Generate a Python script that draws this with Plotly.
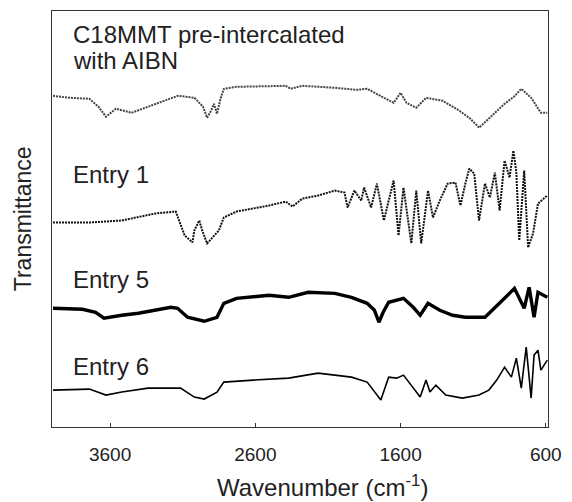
import plotly.graph_objects as go

# Wavenumber (cm-1) and transmittance (arbitrary, offset)
aibn_wn = [3993, 3880, 3743, 3680, 3628, 3561, 3452, 3290, 3134, 3019, 2960, 2932, 2905, 2885, 2864,
           2840, 2817, 2729, 2500, 2391, 2357, 2276, 2053, 1900, 1830, 1760, 1715, 1648, 1600, 1560,
           1492, 1424, 1310, 1195, 1120, 1059, 951, 884, 820, 769, 701, 634, 590]
aibn_t = [333, 331, 330, 322, 312, 320, 316, 325, 333, 331, 322, 311, 318, 325, 315,
          330, 340, 342, 343, 343, 340, 343, 341, 339, 340, 335, 331, 326, 336, 326,
          321, 331, 328, 318, 310, 301, 316, 325, 332, 340, 331, 316, 316]

e1_wn = [3993, 3743, 3520, 3290, 3148, 3115, 3087, 3033, 3020, 2986, 2966, 2932, 2912, 2851, 2817,
         2729, 2506, 2391, 2344, 2276, 2168, 2053, 1986, 1965, 1918, 1871, 1851, 1803, 1763, 1715,
         1648, 1614, 1580, 1526, 1492, 1458, 1411, 1377, 1330, 1276, 1222, 1188, 1154, 1127, 1093,
         1060, 1019, 985, 951, 918, 884, 850, 823, 803, 783, 749, 722, 688, 654, 590]
e1_t = [206, 206, 208, 215, 217, 205, 193, 186, 198, 208, 198, 185, 188, 198, 211,
        217, 223, 227, 222, 230, 233, 238, 236, 221, 238, 228, 241, 221, 245, 208,
        248, 193, 241, 185, 238, 185, 238, 211, 228, 245, 246, 223, 245, 260, 255,
        208, 245, 231, 256, 218, 268, 251, 278, 256, 188, 258, 181, 195, 225, 233]

e5_wn = [3993, 3790, 3700, 3642, 3520, 3405, 3182, 3135, 3067, 2952, 2864, 2840, 2817, 2729, 2506,
         2371, 2236, 2053, 1938, 1830, 1780, 1749, 1720, 1682, 1580, 1513, 1465, 1411, 1330, 1242,
         1154, 1019, 951, 884, 816, 749, 715, 681, 654, 590]
e5_t = [120, 119, 116, 110, 113, 115, 121, 120, 111, 107, 111, 118, 125, 130, 133,
        131, 136, 135, 131, 125, 118, 106, 116, 126, 130, 121, 113, 125, 118, 113,
        111, 111, 120, 130, 140, 120, 141, 111, 136, 131]

e6_wn = [3993, 3743, 3628, 3520, 3338, 3115, 3020, 2952, 2864, 2817, 2614, 2371, 2168, 1938, 1830,
         1736, 1682, 1627, 1580, 1513, 1465, 1425, 1398, 1357, 1289, 1175, 1060, 992, 938, 884,
         837, 803, 769, 735, 701, 681, 654, 634, 590]
e6_t = [38, 39, 33, 36, 40, 40, 31, 29, 36, 46, 48, 50, 55, 51, 46,
        28, 51, 50, 53, 40, 31, 48, 36, 43, 33, 30, 33, 38, 48, 61,
        51, 70, 40, 81, 30, 73, 78, 58, 68]

labels = ["C18MMT pre-intercalated", "with AIBN", "Entry 1", "Entry 5", "Entry 6"]
tick_vals = [3600, 2600, 1600, 600]

fig = go.Figure()
fig.add_trace(go.Scatter(x=aibn_wn, y=aibn_t, mode="lines",
                         line=dict(color="#444444", width=2, dash="2px,1px")))
fig.add_trace(go.Scatter(x=e1_wn, y=e1_t, mode="lines",
                         line=dict(color="#111111", width=2, dash="2px,1px")))
fig.add_trace(go.Scatter(x=e5_wn, y=e5_t, mode="lines",
                         line=dict(color="#000000", width=3.4)))
fig.add_trace(go.Scatter(x=e6_wn, y=e6_t, mode="lines",
                         line=dict(color="#000000", width=1.6)))

txt_font = dict(family="Liberation Sans, Arial, sans-serif", size=24, color="#222222")
ann_pos = [(394.5, labels[0]), (368, labels[1]), (254, labels[2]), (149, labels[3]), (62, labels[4])]
annotations = []
for yv, t in ann_pos:
    annotations.append(dict(x=3872, y=yv, xref="x", yref="y", text=t, showarrow=False,
                            xanchor="left", yanchor="middle", font=txt_font))
annotations.append(dict(x=-0.058, y=0.5, xref="paper", yref="paper", text="Transmittance",
                        textangle=-90, showarrow=False, xanchor="center", yanchor="middle",
                        font=dict(family="Liberation Sans, Arial, sans-serif", size=23, color="#222222")))
annotations.append(dict(x=0.545, y=-0.142, xref="paper", yref="paper",
                        text="Wavenumber (cm<sup>-1</sup>)", showarrow=False,
                        xanchor="center", yanchor="middle", font=txt_font))

fig.update_layout(
    width=572, height=502,
    margin=dict(l=52, r=17, t=10, b=75),
    plot_bgcolor="white", paper_bgcolor="white",
    showlegend=False,
    annotations=annotations,
    xaxis=dict(range=[4000, 585], tickvals=tick_vals, ticktext=[str(v) for v in tick_vals],
               ticks="inside", ticklen=4, tickcolor="#333333", showgrid=False, zeroline=False,
               showline=True, linecolor="#333333", linewidth=1.2, mirror=True,
               tickfont=dict(family="Liberation Sans, Arial, sans-serif", size=19, color="#222222"),
               ticklabelstandoff=10),
    yaxis=dict(range=[1, 418], showticklabels=False, ticks="", showgrid=False, zeroline=False,
               showline=True, linecolor="#333333", linewidth=1.2, mirror=True),
)
fig.write_html("out.html", config={"displayModeBar": False},
               post_script="document.body.style.margin='0';document.body.style.overflow='hidden';")
